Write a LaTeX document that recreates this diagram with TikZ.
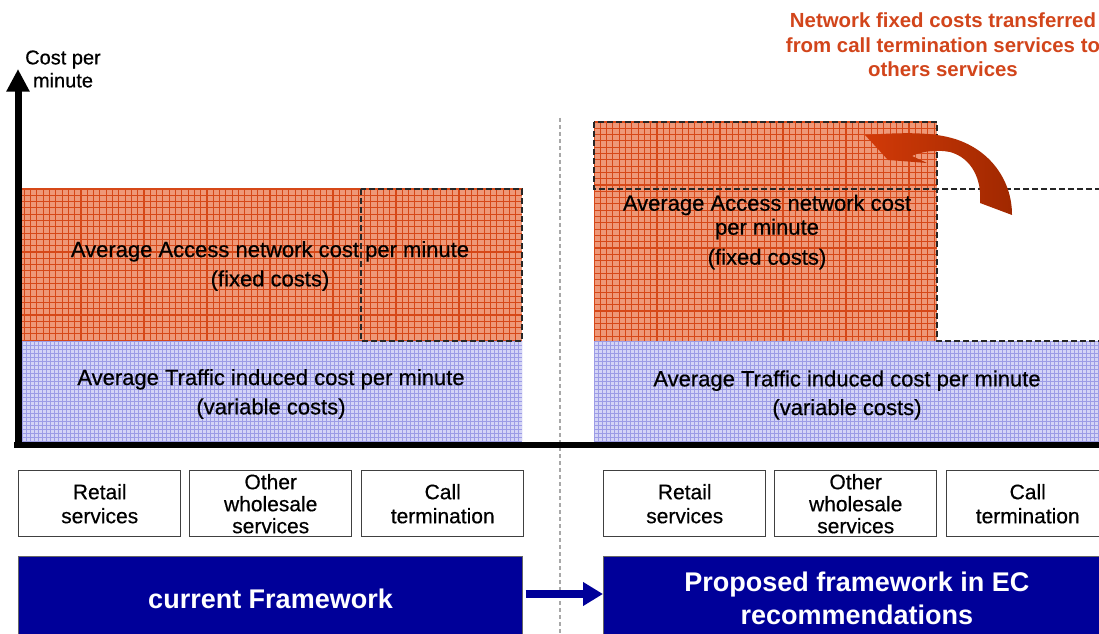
\documentclass[tikz,border=0pt]{standalone}
\usepackage{fontspec}
\setmainfont{Liberation Sans}
\newfontfamily\semib[FakeBold=0.5]{Liberation Sans}
\usetikzlibrary{arrows.meta}
\definecolor{orbase}{HTML}{EE9878}
\definecolor{orline}{HTML}{D64818}
\definecolor{blbase}{HTML}{D4D4F6}
\definecolor{blline}{HTML}{9C9CE6}
\definecolor{navyblue}{HTML}{000099}
\definecolor{redtxt}{HTML}{D2451B}
\definecolor{arrowA}{HTML}{D23A08}
\definecolor{arrowB}{HTML}{A02800}
\definecolor{sepgray}{HTML}{A8A8A8}
\newcommand\mygridfill[8]{%
  \fill[#1] (#3,#4) rectangle (#5,#6);
  \begin{scope}
    \clip (#3,#4) rectangle (#5,#6);
    \pgfmathsetmacro\hxs{#3+#7}\pgfmathsetmacro\hys{#4+#7}
    \foreach \gx in {#3,\hxs,...,#5} \draw[#2, line width=#8] (\gx,#4) -- (\gx,#6);
    \foreach \gy in {#4,\hys,...,#6} \draw[#2, line width=#8] (#3,\gy) -- (#5,\gy);
  \end{scope}}
\tikzset{
  dashbox/.style={draw=black!85, line width=1.1pt, dash pattern=on 4.5pt off 2.25pt},
  maintext/.style={align=center, font=\semib\fontsize{16.5pt}{18pt}\selectfont, inner sep=0pt},
  svcbox/.style={draw=black!75, line width=1.1pt, fill=white, minimum width=121.5pt, minimum height=49.5pt, anchor=north west, align=center, inner sep=0pt, font=\semib\fontsize{15.75pt}{18pt}\selectfont},
  bluebox/.style={draw=black!60, line width=0.8pt, fill=navyblue, text=white, anchor=north west, minimum height=63pt, align=center, inner sep=0pt, font=\bfseries\fontsize{20.25pt}{24.75pt}\selectfont},
}
\begin{document}
\begin{tikzpicture}[x=0.75pt,y=-0.75pt]
\useasboundingbox (0,0) rectangle (1099,634);
\fill[white] (0,0) rectangle (1099,634);

% separator
\coordinate (septop) at (560,118);
\coordinate (sepbot) at (560,634);
\draw[sepgray, line width=0.9pt, dash pattern=on 3pt off 2.25pt] (septop) -- (sepbot);

% left stacked bars
\mygridfill{orbase}{orline}{18}{189}{522}{341}{6.3}{0.85pt}
\mygridfill{blbase}{blline}{18}{341}{522}{441}{4}{0.7pt}
\draw[dashbox] (361,189) rectangle (522,341);

% right stacked bars
\mygridfill{orbase}{orline}{594}{122}{937}{341}{6.3}{0.85pt}
\mygridfill{blbase}{blline}{594}{341}{1099}{441}{4}{0.7pt}
\draw[dashbox] (594,122) rectangle (937,189);
\draw[dashbox] (1110,189) -- (937,189) -- (937,341) -- (1110,341);

% texts in bars
\node[maintext] (lfix) at (270,266) {Average Access network cost per minute\\[4pt](fixed costs)};
\node[maintext] (lvar) at (271,394) {Average Traffic induced cost per minute\\[4pt](variable costs)};
\node[maintext] (rfix) at (767,232) {Average Access network cost\\per minute\\[4.5pt](fixed costs)};
\node[maintext] (rvar) at (847,395) {Average Traffic induced cost per minute\\[3.5pt](variable costs)};

% red annotation
\node[align=center, text=redtxt, inner sep=0pt, font=\bfseries\fontsize{15.3pt}{18.4pt}\selectfont] (note) at (943,45) {Network fixed costs transferred\\from call termination services to\\others services};

% curved transfer arrow
\shade[left color=arrowA, right color=arrowB]
  (865,135) .. controls (895,133) and (930,131) .. (955,139)
  .. controls (990,150) and (1012,180) .. (1012,215)
  -- (980,203)
  .. controls (982,180) and (972,158) .. (950,152)
  .. controls (935,149) and (920,152) .. (912,156)
  -- (927,163) -- (888,160) -- cycle;

% axes
\coordinate (yb) at (18,448);
\coordinate (yt) at (18,69);
\draw[line width=5.25pt, -{Triangle[length=17pt,width=16.5pt]}] (yb) -- (yt);
\coordinate (xl) at (14,445);
\coordinate (xr) at (1099,445);
\draw[line width=4.5pt] (xl) -- (xr);
\node[align=center, inner sep=0pt, font=\semib\fontsize{15pt}{17.25pt}\selectfont] (ylab) at (63,69) {Cost per\\minute};

% service boxes
\node[svcbox] (l1) at (18,470) {Retail\\services};
\node[svcbox, font=\semib\fontsize{15.75pt}{16.5pt}\selectfont] (l2) at (189,470) {Other\\wholesale\\services};
\node[svcbox] (l3) at (361,470) {Call\\termination};
\node[svcbox] (r1) at (603,470) {Retail\\services};
\node[svcbox, font=\semib\fontsize{15.75pt}{16.5pt}\selectfont] (r2) at (774,470) {Other\\wholesale\\services};
\node[svcbox] (r3) at (946,470) {Call\\termination};

% framework boxes
\node[bluebox, minimum width=378pt] (cur) at (18,556) {current Framework};
\node[bluebox, minimum width=380pt] (prop) at (603,556) {Proposed framework in EC\\recommendations};
\coordinate (ay) at (0,594);
\draw[navyblue, line width=6pt, -{Triangle[length=15pt,width=17pt]}] ([xshift=2pt]cur.east |- ay) -- (prop.west |- ay);
\end{tikzpicture}
\end{document}
